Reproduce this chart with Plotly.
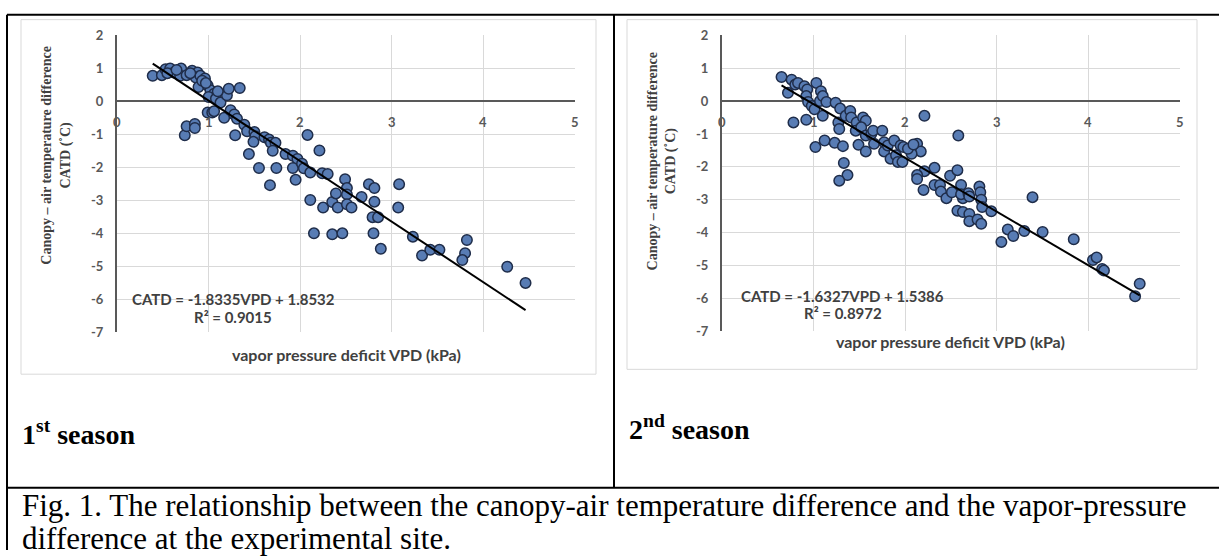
import plotly.graph_objects as go

W, H = 1219, 558

# ---------------- data ----------------
s1_vpd = [0.39, 0.49, 0.53, 0.58, 0.62, 0.70, 0.69, 0.76, 0.82, 0.88, 0.86, 0.91, 0.96, 0.89, 0.99,
          1.02, 1.06, 1.00, 1.08, 1.13, 1.20, 1.22, 1.34, 0.99, 1.04, 1.06, 1.17, 1.24, 1.28, 1.31,
          1.39, 1.42, 1.29, 1.50, 1.51, 1.49, 1.61, 1.66, 1.68, 1.73, 1.70, 1.44, 1.55, 1.74, 1.67,
          1.84, 1.92, 1.97, 1.92, 1.95, 0.74, 0.76, 0.85, 0.85, 0.55, 0.65, 0.80, 0.93, 0.97, 1.10,
          2.08, 2.21, 2.02, 2.04, 2.11, 2.24, 2.30, 2.11, 2.25, 2.35, 2.39, 2.41, 2.49, 2.51, 2.51,
          2.51, 2.56, 2.67, 2.75, 2.81, 2.81, 2.79, 2.85, 2.80, 2.88, 3.08, 3.07, 2.15, 2.35, 2.46,
          3.23, 3.33, 3.42, 3.52, 3.82, 3.80, 3.77, 4.26, 4.46]
s1_catd = [0.77, 0.79, 0.97, 0.99, 0.87, 0.99, 0.77, 0.79, 0.92, 0.87, 0.72, 0.77, 0.69, 0.43, 0.48,
           0.33, 0.23, 0.13, 0.08, -0.04, 0.18, 0.38, 0.40, -0.34, -0.34, -0.30, -0.50, -0.27, -0.40, -0.53,
           -0.71, -0.91, -1.03, -0.93, -1.06, -1.23, -1.09, -1.16, -1.26, -1.26, -1.50, -1.60, -2.02, -2.02, -2.54,
           -1.60, -1.65, -1.75, -2.02, -2.38, -1.03, -0.76, -0.69, -0.81, 0.85, 0.95, 0.85, 0.62, 0.55, 0.30,
           -1.02, -1.49, -1.89, -2.03, -2.16, -2.18, -2.20, -2.99, -3.22, -3.05, -2.79, -3.22, -2.36, -2.63, -2.82,
           -3.12, -3.22, -2.90, -2.51, -2.63, -3.04, -3.51, -3.51, -4.00, -4.47, -2.51, -3.22, -4.00, -4.03, -4.00,
           -4.10, -4.67, -4.50, -4.50, -4.20, -4.60, -4.81, -5.01, -5.50]

s2_vpd = [0.65, 0.72, 0.76, 0.80, 0.83, 0.78, 0.90, 0.93, 0.92, 0.94, 0.92, 1.03, 0.98, 1.01, 1.07,
          1.08, 1.10, 1.10, 1.14, 1.02, 1.12, 1.23, 1.24, 1.29, 1.27, 1.28, 1.32, 1.33, 1.37, 1.28,
          1.35, 1.40, 1.41, 1.47, 1.46, 1.49, 1.54, 1.57, 1.52, 1.57, 1.57, 1.63, 1.65, 1.66, 1.75,
          1.77, 1.77, 1.81, 1.84, 1.88, 1.90, 1.92, 1.95,
          2.21, 2.58, 1.98, 2.13, 2.17, 2.07, 1.97, 2.32, 2.21, 2.13, 2.13, 2.20, 2.32, 2.38, 2.39,
          2.45, 2.51, 2.49, 2.57, 2.61, 2.63, 2.61, 2.69, 2.70, 2.81, 2.82, 2.83, 2.84, 2.94, 2.57,
          2.63, 2.70, 2.70, 2.79, 2.83, 3.05, 3.12, 3.18, 3.30, 3.39, 3.50, 3.84, 4.05, 4.09, 4.15,
          4.17, 4.51, 4.56, 2.03, 2.09]
s2_catd = [0.73, 0.25, 0.65, 0.50, 0.55, -0.65, 0.45, 0.35, 0.15, -0.03, -0.57, 0.55, -0.15, -0.25, 0.00,
           0.30, 0.15, -0.45, -0.03, -1.40, -1.20, -1.27, -0.05, -0.23, -0.65, -0.85, -1.37, -1.88, -2.25, -2.42,
           -0.45, -0.30, -0.50, -0.65, -0.90, -1.33, -0.50, -0.60, -0.80, -1.05, -1.53, -1.00, -0.90, -1.30, -0.90,
           -1.25, -1.53, -1.35, -1.75, -1.20, -1.65, -1.85, -1.35,
           -0.45, -1.05, -1.40, -1.30, -1.53, -1.60, -1.85, -2.03, -2.13, -2.25, -2.37, -2.70, -2.55, -2.55, -2.75,
           -2.95, -2.77, -2.27, -2.10, -2.55, -2.95, -2.83, -2.80, -2.90, -2.60, -2.77, -3.00, -3.22, -3.35, -3.33,
           -3.37, -3.43, -3.65, -3.60, -3.73, -4.28, -3.90, -4.10, -3.95, -2.92, -3.98, -4.20, -4.83, -4.75, -5.10,
           -5.15, -5.93, -5.55, -1.45, -1.32]

fit1 = {"slope": -1.8335, "intercept": 1.8532, "r2": 0.9015}
fit2 = {"slope": -1.6327, "intercept": 1.5386, "r2": 0.8972}

x_ticks = [0, 1, 2, 3, 4, 5]
y_ticks = [2, 1, 0, -1, -2, -3, -4, -5, -6, -7]
y_tick_labels = ["2", "1", "0", "-1", "-2", "-3", "-4", "-5", "-6", "-7"]

y_title = "Canopy – air temperature difference<br>CATD (˚C)"
x_title = "vapor pressure deficit VPD (kPa)"
caption1 = "Fig. 1. The relationship between the canopy-air temperature difference and the vapor-pressure"
caption2 = "difference at the experimental site."

# ---------------- helpers ----------------
def px(x):
    return x / W

def py(y):
    return 1 - y / H

SANS = "Lato"
SERIF = "Liberation Serif"
GRAY = "#595959"

fig = go.Figure()

panels = [
    dict(vpd=s1_vpd, catd=s1_catd, fit=fit1, xa="x", ya="y",
         plot=(117, 575, 28, 334), frame=(21, 596, 12, 377),
         ytitle_x=56, ytitle_y=152, xtitle=(346, 357), eq=(233, 300, 318)),
    dict(vpd=s2_vpd, catd=s2_catd, fit=fit2, xa="x2", ya="y2",
         plot=(722, 1180, 28, 333), frame=(627, 1197, 12, 372),
         ytitle_x=662, ytitle_y=158, xtitle=(951, 343), eq=(843, 296, 314)),
]

annotations = []
shapes = []

for i, p in enumerate(panels):
    xa, ya = p["xa"], p["ya"]
    f = p["fit"]
    xmin, xmax = min(p["vpd"]), max(p["vpd"])
    fig.add_trace(go.Scatter(
        x=p["vpd"], y=p["catd"], mode="markers", xaxis=xa, yaxis=ya,
        marker=dict(size=10.5, color="#587CB4", line=dict(color="#1F2D4A", width=1.5)),
        showlegend=False, hoverinfo="x+y"))
    fig.add_trace(go.Scatter(
        x=[xmin, xmax],
        y=[f["slope"] * xmin + f["intercept"], f["slope"] * xmax + f["intercept"]],
        mode="lines", xaxis=xa, yaxis=ya, line=dict(color="black", width=2),
        showlegend=False, hoverinfo="skip"))

    x0, x1, y0, y1 = p["plot"]
    suffix = "" if i == 0 else "2"
    fig.update_layout(**{
        "xaxis" + suffix: dict(domain=[px(x0), px(x1)], range=[0, 5], anchor="y" + suffix,
                               tickvals=x_ticks, showticklabels=False, showgrid=True,
                               gridcolor="#D9D9D9", gridwidth=1, zeroline=False, showline=False,
                               fixedrange=True),
        "yaxis" + suffix: dict(domain=[py(y1), py(y0)], range=[-7, 2], anchor="x" + suffix,
                               tickvals=y_ticks, ticktext=y_tick_labels, showgrid=True,
                               gridcolor="#D9D9D9", gridwidth=1, zeroline=True,
                               zerolinecolor=GRAY, zerolinewidth=2, showline=True,
                               linecolor=GRAY, linewidth=2, ticks="", ticklabelstandoff=9,
                               tickfont=dict(family=SANS, size=13, color=GRAY, weight="bold"),
                               fixedrange=True),
    })

    # x tick labels just under the y = 0 line
    for t in x_ticks:
        annotations.append(dict(x=t, y=0, xref=xa, yref=ya, text=str(t), showarrow=False,
                                yanchor="middle", xanchor="center", yshift=-21,
                                font=dict(family=SANS, size=13, color=GRAY, weight="bold")))

    # axis titles
    annotations.append(dict(x=px(p["ytitle_x"]), y=py(p["ytitle_y"]), xref="paper", yref="paper",
                            text=y_title, showarrow=False, textangle=-90,
                            xanchor="center", yanchor="middle",
                            font=dict(family=SERIF, size=14, color="#404040", weight="bold")))
    annotations.append(dict(x=px(p["xtitle"][0]), y=py(p["xtitle"][1]), xref="paper", yref="paper",
                            text=x_title, showarrow=False, xanchor="center", yanchor="middle",
                            font=dict(family=SANS, size=16, color="#404040", weight="bold")))
    eqx, eqy, r2y = p["eq"]
    annotations.append(dict(x=px(eqx), y=py(eqy), xref="paper", yref="paper",
                            text=f"CATD = {f['slope']:.4f}VPD + {f['intercept']:.4f}",
                            showarrow=False, xanchor="center", yanchor="middle",
                            font=dict(family=SANS, size=15, color="#404040", weight="bold")))
    annotations.append(dict(x=px(eqx), y=py(r2y), xref="paper", yref="paper",
                            text=f"R² = {f['r2']:.4f}",
                            showarrow=False, xanchor="center", yanchor="middle",
                            font=dict(family=SANS, size=15, color="#404040", weight="bold")))

    fx0, fx1, fy0, fy1 = p["frame"]
    shapes.append(dict(type="rect", xref="paper", yref="paper", x0=px(fx0), x1=px(fx1),
                       y0=py(fy1), y1=py(fy0), line=dict(color="#D9D9D9", width=1),
                       layer="below"))

# season labels
annotations.append(dict(x=px(20), y=py(437), xref="paper", yref="paper",
                        text="1<sup>st</sup> season", showarrow=False, xanchor="left", yanchor="middle",
                        font=dict(family=SERIF, size=28, color="black", weight="bold")))
annotations.append(dict(x=px(627), y=py(432), xref="paper", yref="paper",
                        text="2<sup>nd</sup> season", showarrow=False, xanchor="left", yanchor="middle",
                        font=dict(family=SERIF, size=28, color="black", weight="bold")))
# caption
annotations.append(dict(x=px(20), y=py(512), xref="paper", yref="paper", text=caption1,
                        showarrow=False, xanchor="left", yanchor="middle",
                        font=dict(family=SERIF, size=31, color="black")))
annotations.append(dict(x=px(20), y=py(546), xref="paper", yref="paper", text=caption2,
                        showarrow=False, xanchor="left", yanchor="middle",
                        font=dict(family=SERIF, size=31, color="black")))

# table rules
for (a, b, c, d) in [(7, 7, W, 7), (7, 7, 7, H), (614, 7, 614, 494), (7, 494, W, 494)]:
    shapes.append(dict(type="line", xref="paper", yref="paper", x0=px(a), y0=py(b),
                       x1=px(c), y1=py(d), line=dict(color="black", width=2)))

fig.update_layout(width=W, height=H, margin=dict(l=0, r=0, t=0, b=0),
                  paper_bgcolor="white", plot_bgcolor="white",
                  annotations=annotations, shapes=shapes, showlegend=False)

fig.write_html("out.html")
